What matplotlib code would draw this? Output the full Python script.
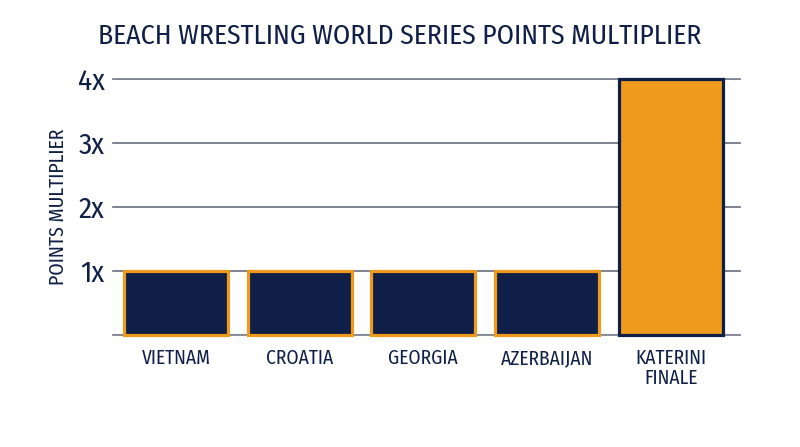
import matplotlib
matplotlib.use("Agg")
import matplotlib.pyplot as plt

categories = ["VIETNAM", "CROATIA", "GEORGIA", "AZERBAIJAN", "KATERINI\nFINALE"]
values = [1, 1, 1, 1, 4]
ytick_vals = [0, 1, 2, 3, 4]
ytick_labels = ["", "1x", "2x", "3x", "4x"]

NAVY = "#0f1f47"
ORANGE = "#ee9a1d"
GRID = "#808595"

plt.rcParams['font.family'] = ['Fira Sans Condensed', 'DejaVu Sans']

fig = plt.figure(figsize=(8, 4.47), dpi=100)
ax = fig.add_axes([0.141, 0.2506, 0.784, 0.5727])

faces = [NAVY, NAVY, NAVY, NAVY, ORANGE]
edges = [ORANGE, ORANGE, ORANGE, ORANGE, NAVY]
x = list(range(len(categories)))
bars = ax.bar(x, values, width=0.84, color=faces, edgecolor=edges, linewidth=2.3, zorder=3)
for b in bars:
    b.set_clip_on(False)

ax.set_xlim(-0.51, 4.56)
ax.set_ylim(0, 4)
ax.set_yticks(ytick_vals)
ax.set_yticklabels(ytick_labels, fontsize=21, color=NAVY)
ax.set_xticks(x)
ax.set_xticklabels(categories, fontsize=14, color=NAVY, linespacing=1.0)
ax.tick_params(axis='y', length=0, pad=6)
ax.tick_params(axis='x', length=0, pad=10)
for s in ax.spines.values():
    s.set_visible(False)
ax.yaxis.grid(True, color=GRID, linewidth=1.3, zorder=0)
for yv in ytick_vals:
    ax.axhline(yv, color=GRID, linewidth=1.3, zorder=0, clip_on=False)

ax.set_ylabel("POINTS MULTIPLIER", fontsize=14.3, color=NAVY, labelpad=7)
fig.text(0.5, 0.918, "BEACH WRESTLING WORLD SERIES POINTS MULTIPLIER", ha='center', va='center',
         fontsize=19.9, color=NAVY)

fig.savefig("out.png", dpi=100)
